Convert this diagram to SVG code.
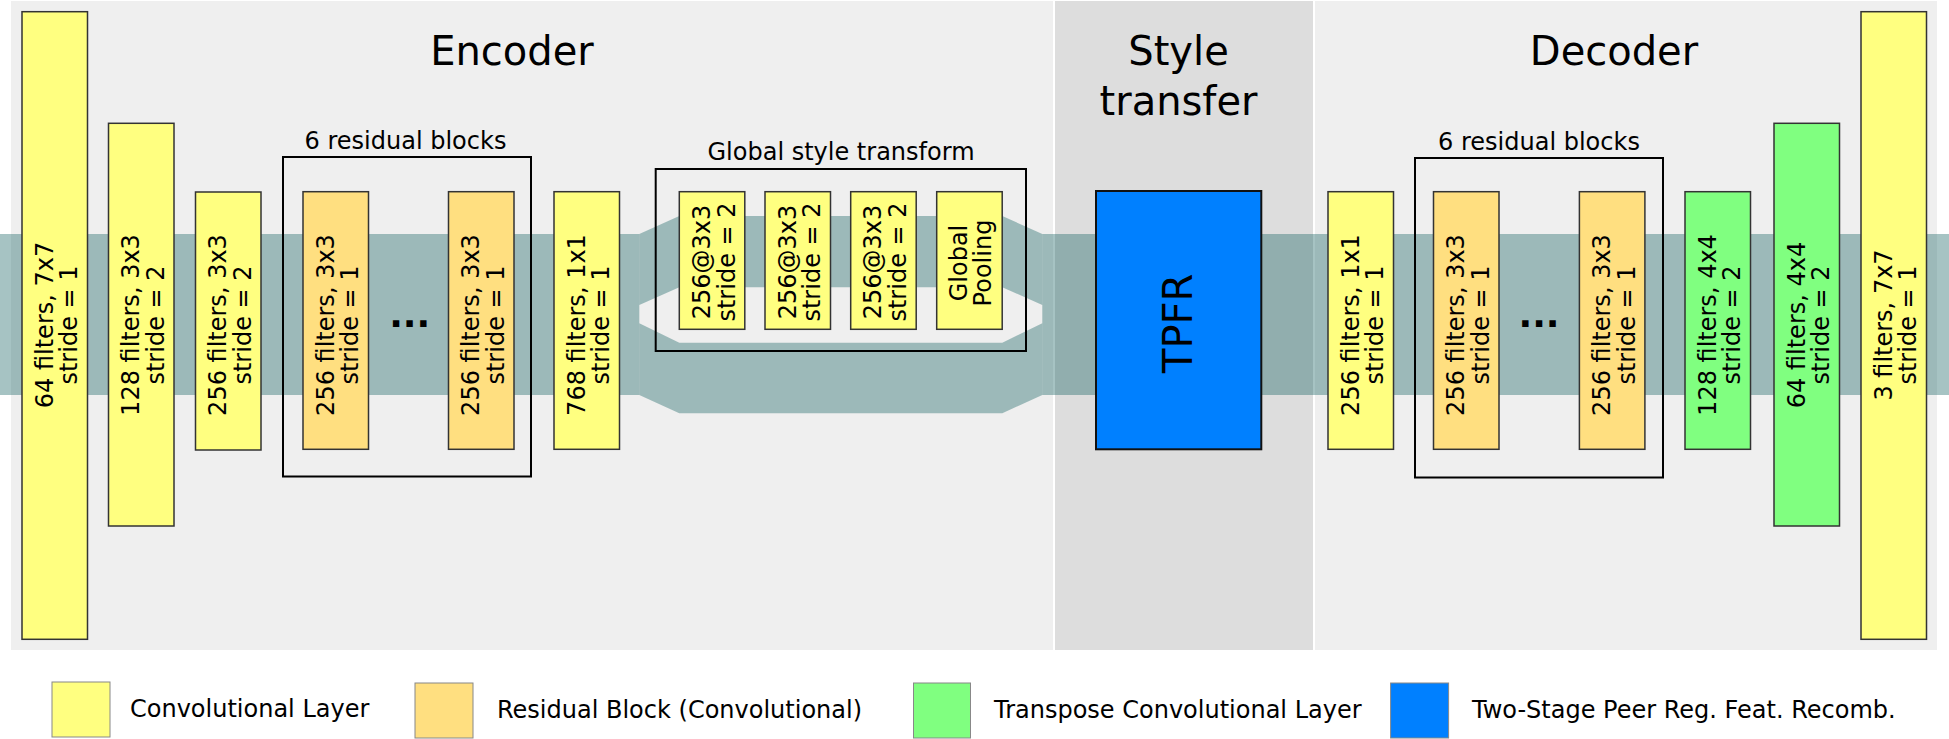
<svg xmlns="http://www.w3.org/2000/svg" width="1949" height="739" viewBox="0 0 1949 739">
<style>
.t{font-family:"DejaVu Sans",Verdana,sans-serif;fill:#000}
.h{font-size:40px}
.s{font-size:24px}
.dots{font-size:36px;font-weight:bold}
.conv{fill:#ffff80;stroke:#333;stroke-width:1.5}
.res{fill:#ffdf80;stroke:#333;stroke-width:1.5}
.tconv{fill:#80ff80;stroke:#333;stroke-width:1.5}
.tpfr{fill:#0080ff;stroke:#111;stroke-width:2}
.grp{fill:none;stroke:#000;stroke-width:2}
.leg{stroke:#888;stroke-width:1}
.panel{fill:#efefef}
.panel2{fill:#dddddd}
.band{fill:#206868;fill-opacity:0.4}
</style>
<rect width="1949" height="739" fill="#ffffff"/>
<g id="panels">
<rect class="panel" x="11" y="1" width="1042" height="649"/>
<rect class="panel2" x="1055" y="1" width="258" height="649"/>
<rect class="panel" x="1315" y="1" width="622" height="649"/>
<text class="t h" x="512" y="65" text-anchor="middle">Encoder</text>
<text class="t h" x="1178.5" y="65" text-anchor="middle">Style</text>
<text class="t h" x="1178.5" y="115" text-anchor="middle">transfer</text>
<text class="t h" x="1614" y="65" text-anchor="middle">Decoder</text>
</g>
<g id="connectors">
<path class="band" d="M0,234 H639.3 V395 H0 Z"/>
<path class="band" d="M639.3,234 L679.3,216 L1002.3,216 L1042.3,234 L1042.3,305 L1002.3,287.3 L679.3,287.3 L639.3,305 Z"/>
<path class="band" d="M639.3,323.3 L679.3,342.7 L1002.3,342.7 L1042.3,323.3 L1042.3,395 L1002.3,413.3 L679.3,413.3 L639.3,395 Z"/>
<path class="band" d="M1042.3,234 H1949 V395 H1042.3 Z"/>
</g>
<g id="enc-conv1">
<rect class="conv" x="22" y="11.7" width="65.5" height="627.6"/>
<text class="t s" transform="translate(54.75,325) rotate(-90)" text-anchor="middle"><tspan x="0" y="-2">64 filters, 7x7</tspan><tspan x="0" y="22.5">stride = 1</tspan></text>
</g>
<g id="enc-conv2">
<rect class="conv" x="108.5" y="123.3" width="65.5" height="402.7"/>
<text class="t s" transform="translate(141.25,325) rotate(-90)" text-anchor="middle"><tspan x="0" y="-2">128 filters, 3x3</tspan><tspan x="0" y="22.5">stride = 2</tspan></text>
</g>
<g id="enc-conv3">
<rect class="conv" x="195.5" y="192" width="65.5" height="258"/>
<text class="t s" transform="translate(228.25,325) rotate(-90)" text-anchor="middle"><tspan x="0" y="-2">256 filters, 3x3</tspan><tspan x="0" y="22.5">stride = 2</tspan></text>
</g>
<g id="enc-resblocks">
<rect class="grp" x="283" y="157" width="248" height="319.5"/>
<text class="t s" x="405.5" y="148.5" text-anchor="middle">6 residual blocks</text>
<g id="enc-res1">
<rect class="res" x="303" y="191.7" width="65.5" height="257.6"/>
<text class="t s" transform="translate(335.75,325) rotate(-90)" text-anchor="middle"><tspan x="0" y="-2">256 filters, 3x3</tspan><tspan x="0" y="22.5">stride = 1</tspan></text>
</g>
<text class="t dots" x="409.7" y="327" text-anchor="middle">...</text>
<g id="enc-res6">
<rect class="res" x="448.5" y="191.7" width="65.5" height="257.6"/>
<text class="t s" transform="translate(481.25,325) rotate(-90)" text-anchor="middle"><tspan x="0" y="-2">256 filters, 3x3</tspan><tspan x="0" y="22.5">stride = 1</tspan></text>
</g>
</g>
<g id="enc-conv4">
<rect class="conv" x="554" y="191.7" width="65.5" height="257.6"/>
<text class="t s" transform="translate(586.75,325) rotate(-90)" text-anchor="middle"><tspan x="0" y="-2">768 filters, 1x1</tspan><tspan x="0" y="22.5">stride = 1</tspan></text>
</g>
<g id="global-style-transform">
<rect class="grp" x="655.7" y="169" width="370.3" height="182"/>
<text class="t s" x="841" y="160" text-anchor="middle">Global style transform</text>
<g id="gst-conv1">
<rect class="conv" x="679.3" y="191.7" width="65.5" height="137.6"/>
<text class="t s" transform="translate(712,262) rotate(-90)" text-anchor="middle"><tspan x="0" y="-2">256@3x3</tspan><tspan x="0" y="22.5">stride = 2</tspan></text>
</g>
<g id="gst-conv2">
<rect class="conv" x="765" y="191.7" width="65.5" height="137.6"/>
<text class="t s" transform="translate(797.75,262) rotate(-90)" text-anchor="middle"><tspan x="0" y="-2">256@3x3</tspan><tspan x="0" y="22.5">stride = 2</tspan></text>
</g>
<g id="gst-conv3">
<rect class="conv" x="850.7" y="191.7" width="65.5" height="137.6"/>
<text class="t s" transform="translate(883.45,262) rotate(-90)" text-anchor="middle"><tspan x="0" y="-2">256@3x3</tspan><tspan x="0" y="22.5">stride = 2</tspan></text>
</g>
<g id="gst-pool">
<rect class="conv" x="936.7" y="191.7" width="65.5" height="137.6"/>
<text class="t s" transform="translate(969.45,263) rotate(-90)" text-anchor="middle"><tspan x="0" y="-2.5">Global</tspan><tspan x="0" y="22">Pooling</tspan></text>
</g>
</g>
<g id="tpfr">
<rect class="tpfr" x="1096" y="191" width="165.3" height="258.3"/>
<text class="t h" transform="translate(1178.7,323.3) rotate(-90)" text-anchor="middle" y="13">TPFR</text>
</g>
<g id="dec-conv1">
<rect class="conv" x="1328" y="191.7" width="65.5" height="257.6"/>
<text class="t s" transform="translate(1360.75,325) rotate(-90)" text-anchor="middle"><tspan x="0" y="-2">256 filters, 1x1</tspan><tspan x="0" y="22.5">stride = 1</tspan></text>
</g>
<g id="dec-resblocks">
<rect class="grp" x="1415" y="158" width="248" height="319.5"/>
<text class="t s" x="1539" y="150" text-anchor="middle">6 residual blocks</text>
<g id="dec-res1">
<rect class="res" x="1433.5" y="191.7" width="65.5" height="257.6"/>
<text class="t s" transform="translate(1466.25,325) rotate(-90)" text-anchor="middle"><tspan x="0" y="-2">256 filters, 3x3</tspan><tspan x="0" y="22.5">stride = 1</tspan></text>
</g>
<text class="t dots" x="1539" y="327" text-anchor="middle">...</text>
<g id="dec-res6">
<rect class="res" x="1579.4" y="191.7" width="65.5" height="257.6"/>
<text class="t s" transform="translate(1612.15,325) rotate(-90)" text-anchor="middle"><tspan x="0" y="-2">256 filters, 3x3</tspan><tspan x="0" y="22.5">stride = 1</tspan></text>
</g>
</g>
<g id="dec-tconv1">
<rect class="tconv" x="1685" y="191.7" width="65.5" height="257.6"/>
<text class="t s" transform="translate(1717.75,325) rotate(-90)" text-anchor="middle"><tspan x="0" y="-2">128 filters, 4x4</tspan><tspan x="0" y="22.5">stride = 2</tspan></text>
</g>
<g id="dec-tconv2">
<rect class="tconv" x="1774" y="123.3" width="65.5" height="402.7"/>
<text class="t s" transform="translate(1806.75,325) rotate(-90)" text-anchor="middle"><tspan x="0" y="-2">64 filters, 4x4</tspan><tspan x="0" y="22.5">stride = 2</tspan></text>
</g>
<g id="dec-conv2">
<rect class="conv" x="1861" y="11.7" width="65.5" height="627.6"/>
<text class="t s" transform="translate(1893.75,325) rotate(-90)" text-anchor="middle"><tspan x="0" y="-2">3 filters, 7x7</tspan><tspan x="0" y="22.5">stride = 1</tspan></text>
</g>
<g id="legend">
<g id="legend-conv">
<rect class="leg" x="52" y="682" width="58" height="55" fill="#ffff80"/>
<text class="t s" x="130" y="717">Convolutional Layer</text>
</g>
<g id="legend-res">
<rect class="leg" x="415" y="683" width="58" height="55" fill="#ffdf80"/>
<text class="t s" x="497" y="717.5">Residual Block (Convolutional)</text>
</g>
<g id="legend-tconv">
<rect class="leg" x="913.5" y="683" width="57" height="55" fill="#80ff80"/>
<text class="t s" x="994" y="717.5">Transpose Convolutional Layer</text>
</g>
<g id="legend-tpfr">
<rect class="leg" x="1390.6" y="683" width="58" height="55" fill="#0080ff"/>
<text class="t s" x="1472" y="717.5">Two-Stage Peer Reg. Feat. Recomb.</text>
</g>
</g>
</svg>
